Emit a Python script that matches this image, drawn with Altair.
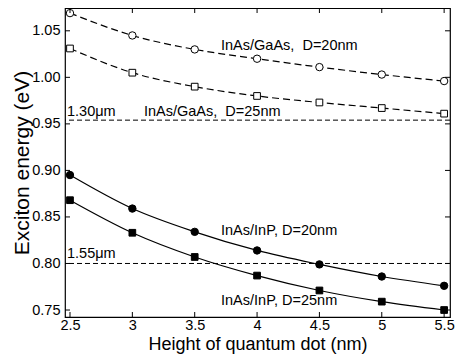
import altair as alt
import pandas as pd

# ---- data ----
heights = [2.5, 3.0, 3.5, 4.0, 4.5, 5.0, 5.5]
gaas_d20 = [1.069, 1.045, 1.030, 1.020, 1.011, 1.003, 0.996]
gaas_d25 = [1.031, 1.005, 0.990, 0.980, 0.973, 0.967, 0.961]
inp_d20 = [0.895, 0.859, 0.834, 0.814, 0.799, 0.786, 0.776]
inp_d25 = [0.868, 0.833, 0.807, 0.787, 0.771, 0.759, 0.750]

wavelength_labels = ["1.30\u03bcm", "1.55\u03bcm"]
wavelength_energy = [0.954, 0.800]

x_ticks = [2.5, 3.0, 3.5, 4.0, 4.5, 5.0, 5.5]
y_ticks = [0.75, 0.80, 0.85, 0.90, 0.95, 1.00, 1.05]

ann_text = ["InAs/GaAs,\u00a0 D=20nm", "InAs/GaAs,\u00a0 D=25nm", "1.30\u03bcm",
            "InAs/InP, D=20nm", "InAs/InP, D=25nm", "1.55\u03bcm"]
ann_x = [3.711, 3.093, 2.476, 3.711, 3.711, 2.476]
ann_y = [1.0294, 0.9585, 0.9585, 0.8306, 0.7554, 0.8059]

FONT = "Liberation Sans"
W, H = 385, 309

xs = alt.Scale(domain=[2.46, 5.547], nice=False, zero=False)
ys = alt.Scale(domain=[0.7425, 1.0745], nice=False, zero=False)
xaxis = alt.Axis(values=x_ticks, format="~g", ticks=False, tickSize=0, domain=False,
                 grid=False, labelPadding=1, labelFontSize=14.5, labelFont=FONT,
                 labelColor="black", title="Height of quantum dot (nm)",
                 titleFontSize=18, titleFont=FONT, titleFontWeight="normal",
                 titleColor="black", titleBaseline="alphabetic", titleY=32)
yaxis = alt.Axis(values=y_ticks, format=".2f", ticks=False, tickSize=0, domain=False,
                 grid=False, labelPadding=5, labelFontSize=14.5, labelFont=FONT,
                 labelColor="black", title="Exciton energy (eV)",
                 titleFontSize=21, titleFont=FONT, titleFontWeight="normal",
                 titleColor="black", titleBaseline="alphabetic", titleX=-37)


def X(field):
    return alt.X(f"{field}:Q", scale=xs, axis=xaxis)


def Y(field):
    return alt.Y(f"{field}:Q", scale=ys, axis=yaxis)


def series(vals, dashed, shape, filled):
    df = pd.DataFrame({"h": heights, "e": vals})
    line_kw = dict(color="black", strokeWidth=1.2, interpolate="monotone")
    if dashed:
        line_kw["strokeDash"] = [7, 4]
    line = alt.Chart(df).mark_line(**line_kw).encode(x=X("h"), y=Y("e"))
    size = 55 if shape == "circle" else 45
    pts = alt.Chart(df).mark_point(
        shape=shape, size=size, filled=True,
        fill="black" if filled else "white",
        stroke="black", strokeWidth=1, opacity=1,
    ).encode(x=X("h"), y=Y("e"))
    return [line, pts]


layers = []
# reference wavelength lines
wl_df = pd.DataFrame({"e": wavelength_energy, "lab": wavelength_labels})
layers.append(alt.Chart(wl_df).mark_rule(color="black", strokeWidth=1, strokeDash=[5, 3])
              .encode(y=Y("e")))

layers += series(gaas_d20, True, "circle", False)
layers += series(gaas_d25, True, "square", False)
layers += series(inp_d20, False, "circle", True)
layers += series(inp_d25, False, "square", True)

# annotations
ann_df = pd.DataFrame({"t": ann_text, "x": ann_x, "y": ann_y})
layers.append(alt.Chart(ann_df).mark_text(align="left", baseline="alphabetic",
                                          fontSize=14.5, font=FONT, color="black")
              .encode(x=X("x"), y=Y("y"), text="t:N"))

# inward ticks on all four sides
xt = pd.DataFrame({"v": x_ticks})
yt = pd.DataFrame({"v": y_ticks})
TL = 5
layers.append(alt.Chart(xt).mark_rule(color="black", strokeWidth=1)
              .encode(x=X("v"), y=alt.value(H), y2=alt.value(H - TL)))
layers.append(alt.Chart(xt).mark_rule(color="black", strokeWidth=1)
              .encode(x=X("v"), y=alt.value(0), y2=alt.value(TL)))
layers.append(alt.Chart(yt).mark_rule(color="black", strokeWidth=1)
              .encode(y=Y("v"), x=alt.value(0), x2=alt.value(TL)))
layers.append(alt.Chart(yt).mark_rule(color="black", strokeWidth=1)
              .encode(y=Y("v"), x=alt.value(W), x2=alt.value(W - TL)))

chart = alt.layer(*layers).properties(
    width=W, height=H,
    autosize=alt.AutoSizeParams(type="none"),
    padding={"left": 57, "top": 0, "right": 8, "bottom": 37},
    background="white",
).configure_view(stroke="black", strokeWidth=1.2)

chart.save("out.html", embed_options={"renderer": "svg", "actions": False})
